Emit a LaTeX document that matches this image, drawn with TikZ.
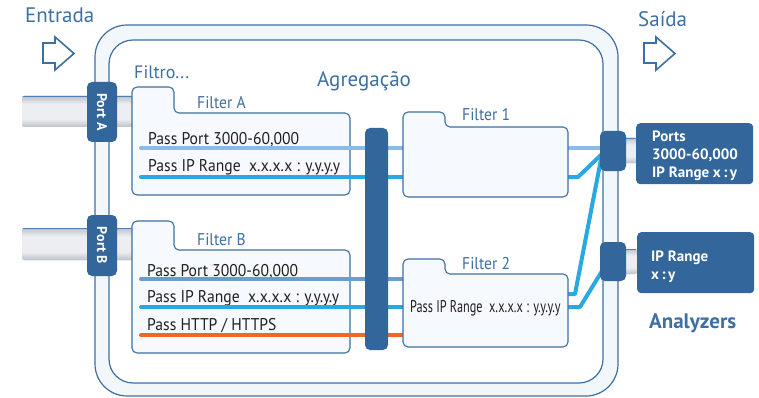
\documentclass[tikz,border=0pt]{standalone}
\usepackage{fontspec}
\setmainfont{PT Sans}
\newfontfamily\condfont{PT Sans}[FakeStretch=0.92]
\newfontfamily\narrowfont{PT Sans}[FakeStretch=0.72]
\usetikzlibrary{positioning}

\definecolor{frameblue}{HTML}{3D6FA3}
\definecolor{darkblue}{HTML}{33669A}
\definecolor{bandfill}{HTML}{F2F7FC}
\definecolor{boxfill}{HTML}{F6FAFE}
\definecolor{lightline}{HTML}{8BBBE8}
\definecolor{midline}{HTML}{6B9BCF}
\definecolor{cyanline}{HTML}{29A9E1}
\definecolor{orangeline}{HTML}{F26724}
\definecolor{textdark}{HTML}{231F20}
\definecolor{cableedge}{HTML}{4F7DB2}
\definecolor{cablegray}{HTML}{C3C8CF}
\definecolor{cablelight}{HTML}{ECEEF1}

\pgfdeclareverticalshading{cableshade}{100bp}{color(0bp)=(cableedge); color(25bp)=(cableedge); color(26.5bp)=(cablegray); color(38bp)=(cablelight); color(62bp)=(cablelight); color(73.5bp)=(cablegray); color(75bp)=(cableedge); color(100bp)=(cableedge)}

\begin{document}
\begin{tikzpicture}[
		x=1pt, y=-1pt,
		title/.style={text=frameblue, font=\fontsize{21}{22}\selectfont, inner sep=0, anchor=base west},
		flabel/.style={text=frameblue, font=\condfont\fontsize{17}{18}\selectfont, inner sep=0, anchor=base west},
		passtext/.style={text=textdark, font=\condfont\fontsize{17}{18}\selectfont, inner sep=0, anchor=base west},
		fbody/.style={minimum width=#1, inner sep=0, outer sep=0, anchor=north west},
		folder/.style={draw=frameblue, fill=boxfill, line width=1.1pt, rounded corners=5pt},
		port/.style={fill=darkblue, rounded corners=5pt, inner sep=0, outer sep=0},
		cable/.style={shading=cableshade, rounded corners=2pt},
		flow/.style={line width=4pt, line cap=round},
		bigarrow/.style={draw=frameblue, line width=1.6pt, line join=miter},
		analyzer/.style={fill=darkblue, rounded corners=4pt, minimum width=117, minimum height=61, inner sep=0, anchor=north west},
		anatext/.style={text=white, font=\bfseries\fontsize{15}{18}\selectfont, align=left, inner sep=0, anchor=north west},
	]
		\useasboundingbox (0,0) rectangle (759,398);

		% outer frame
		\filldraw[draw=frameblue, fill=bandfill, line width=1.2pt, rounded corners=32pt] (95,25) rectangle (618,396);
		\filldraw[draw=frameblue, fill=white, line width=1.2pt, rounded corners=24pt] (109,40) rectangle (603,383);

		% in / out arrows
		\draw[bigarrow] (43,43) -- (55,43) -- (55,37) -- (74,53.5) -- (55,70) -- (55,63) -- (43,63) -- cycle;
		\draw[bigarrow] (644,43) -- (656,43) -- (656,37) -- (675,53.5) -- (656,70) -- (656,63) -- (644,63) -- cycle;

		\node (in) [title] at (25,23) {Entrada};
		\node (out) [title] at (638,27) {Saída};
		\node (flt) [title, font=\fontsize{18}{20}\selectfont] at (134,79) {Filtro...};
		\node (agg) [title] at (317,87) {Agregação};

		% cables
		\shade[cable] (22,96) rectangle (92,127);
		\shade[cable] (112,96) rectangle (133,127);
		\shade[cable] (22,228) rectangle (92,260);
		\shade[cable] (112,228) rectangle (133,260);

		\node (pA) [port, rotate=-90, minimum width=60, minimum height=30, text=white, font=\bfseries\fontsize{14}{14}\selectfont] at (102,112) {Port A};
		\node (pB) [port, rotate=-90, minimum width=61, minimum height=30, text=white, font=\bfseries\fontsize{14}{14}\selectfont] at (102,245.5) {Port B};

		% filter bodies
		\node (fa) [fbody=218, minimum height=82] at (132,113) {};
		\node (fb) [fbody=218, minimum height=103] at (132,250) {};
		\node (f1) [fbody=165, minimum height=70] at (403,127) {};
		\node (f2) [fbody=165, minimum height=73] at (403,274) {};

		\filldraw[folder] (fa.south west) -- ([yshift=26pt]fa.north west) -- ++(42,0) |- (fa.north east) -- (fa.south east) -- cycle;
		\filldraw[folder] (fb.south west) -- ([yshift=29pt]fb.north west) -- ++(42,0) |- (fb.north east) -- (fb.south east) -- cycle;

		\node (fal) [flabel] at (197,109) {Filter A};
		\node (fbl) [flabel] at (197,245) {Filter B};

		\node (pa1) [passtext] at (148,144.5) {Pass Port 3000-60,000};
		\node (pa2) [passtext] at (148,171.5) {Pass IP Range\ \ x.x.x.x : y.y.y.y};
		\node (pb1) [passtext] at (147,276) {Pass Port 3000-60,000};
		\node (pb2) [passtext] at (147,302) {Pass IP Range\ \ x.x.x.x : y.y.y.y};
		\node (pb3) [passtext] at (147,330) {Pass HTTP / HTTPS};

		% flows
		\coordinate (a1) at (141,148);
		\coordinate (a2) at (141,177);
		\coordinate (b1) at (141,279);
		\coordinate (b2) at (141,307);
		\coordinate (b3) at (141,335);
		\coordinate (c1) at (568,294);
		\coordinate (o1in) at (602,154);
		\coordinate (o2in) at (602,271);

		\draw[flow, lightline] (a1) -- (f1.west |- a1);
		\draw[flow, cyanline] (a2) -- (f1.west |- a2);
		\draw[flow, midline] (b1) -- (f2.west |- b1);
		\draw[flow, cyanline] (b2) -- (f2.west |- b2);
		\draw[flow, orangeline] (b3) -- (f2.west |- b3);

		\node (bar) [port, minimum width=23, minimum height=222, anchor=north west] at (365,128) {};

		\draw[flow, lightline] (f1.east |- a1) -- (o1in |- a1);
		\draw[flow, cyanline, line join=round] (f1.east |- a2) -- ++(10,0) -- (o1in);
		\draw[flow, cyanline, line join=round] (c1) -- ++(7,0) -- (o1in);
		\draw[flow, cyanline, line join=round] (f2.east |- b2) -- ++(12,0) -- (o2in);

		\filldraw[folder] (f1.south west) -- ([yshift=15pt]f1.north west) -- ++(42,0) |- (f1.north east) -- (f1.south east) -- cycle;
		\filldraw[folder] (f2.south west) -- ([yshift=15pt]f2.north west) -- ++(42,0) |- (f2.north east) -- (f2.south east) -- cycle;

		\node (f1l) [flabel] at (462,121) {Filter 1};
		\node (f2l) [flabel] at (462,269) {Filter 2};
		\node (p2) [passtext, font=\narrowfont\fontsize{17}{18}\selectfont] at (410,312) {Pass IP Range\ \ x.x.x.x : y.y.y.y};

		% outputs
		\shade[cable] (623,138) rectangle (637,163);
		\shade[cable] (623,249) rectangle (637,274);
		\node (o1) [port, minimum width=26, minimum height=40, anchor=north west] at (600,131) {};
		\node (o2) [port, minimum width=26, minimum height=39, anchor=north west] at (600,242) {};

		\node (an1) [analyzer] at (636,123) {};
		\node (an2) [analyzer] at (637,232) {};
		\node (an1t) [anatext] at (652,131) {Ports\\3000-60,000\\IP Range x\,:\,y};
		\node (an2t) [anatext] at (651,251) {IP Range\\x\,:\,y};
		\node (anl) [below=20pt of an2, xshift=-3pt, inner sep=0, text=frameblue, font=\bfseries\fontsize{21}{22}\selectfont] {Analyzers};
	\end{tikzpicture}
\end{document}
